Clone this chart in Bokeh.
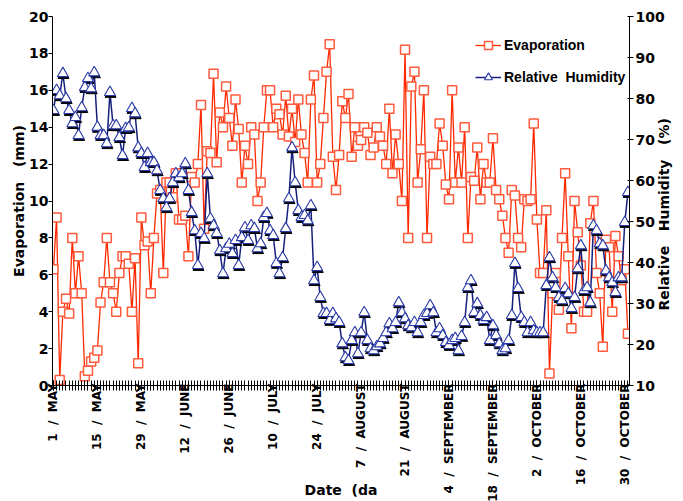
import math
import numpy as np
from bokeh.plotting import figure
from bokeh.models import Range1d, LinearAxis, FixedTicker, Legend, LegendItem
from bokeh.embed import file_html
from bokeh.resources import INLINE

# ---- data (daily, starting 1 May) ----
evaporation_mm = [
    6.3, 9.1, 0.3, 4.0, 4.7, 3.9, 8.0, 5.0, 7.0, 5.0,
    0.5, 0.8, 1.3, 1.5, 1.9, 4.5, 5.6, 8.0, 5.6, 5.0,
    4.0, 6.1, 7.0, 7.0, 6.6, 4.0, 6.9, 1.2, 9.1, 7.6,
    7.8, 5.0, 8.0, 10.4, 10.6, 6.1, 11.0, 11.0, 10.2, 11.5,
    9.0, 9.0, 9.2, 7.0, 11.3, 11.0, 12.0, 15.2, 8.5, 12.7,
    12.6, 16.9, 12.1, 14.8, 14.0, 16.2, 14.5, 13.0, 15.5, 13.9,
    11.0, 13.0, 12.0, 14.0, 13.6, 10.0, 11.0, 14.0, 16.0, 16.0,
    14.0, 15.0, 14.7, 13.6, 15.7, 13.5, 15.0, 13.2, 15.5, 13.6,
    12.6, 11.0, 15.5, 16.8, 11.0, 12.0, 14.5, 17.0, 18.5, 12.4,
    10.6, 12.5, 15.4, 14.5, 15.8, 12.4, 14.0, 13.0, 13.3, 14.0,
    13.7, 12.5, 12.9, 14.0, 13.5, 13.0, 12.0, 15.0, 11.5, 13.6,
    12.0, 10.0, 18.2, 8.0, 16.2, 17.0, 11.0, 12.8, 16.0, 8.0,
    12.4, 12.0, 12.0, 14.2, 13.0, 10.9, 10.1, 16.0, 11.0, 12.9,
    11.0, 14.0, 8.0, 11.3, 11.1, 12.9, 10.1, 12.0, 11.0, 11.0,
    13.4, 10.6, 10.1, 9.2, 8.0, 7.2, 10.6, 10.3, 8.0, 7.5,
    10.1, 10.0, 10.1, 14.2, 9.0, 6.1, 6.1, 9.5, 0.65, 5.0,
    6.1, 4.1, 8.0, 11.5, 7.0, 3.1, 10.0, 8.3, 6.5, 4.0,
    4.0, 8.8, 10.0, 6.1, 5.0, 2.1, 7.9, 7.5, 4.0, 8.1,
    7.0, 5.7, 6.3, 2.8,
]

relative_humidity_pct = [
    77.1, 82.0, 80.7, 86.1, 80.0, 77.1, 73.9, 75.4, 71.0, 77.8,
    82.7, 84.9, 82.4, 86.3, 73.0, 71.0, 71.0, 69.0, 81.5, 73.4,
    73.4, 70.5, 66.1, 72.7, 72.9, 77.6, 76.3, 68.0, 66.6, 63.2,
    66.6, 64.4, 64.4, 62.4, 57.6, 55.6, 53.4, 55.6, 59.5, 61.7,
    60.7, 61.7, 64.1, 57.6, 52.2, 47.8, 39.3, 47.1, 45.9, 61.7,
    50.7, 49.0, 47.1, 42.9, 37.3, 43.4, 44.5, 42.2, 45.4, 39.3, 46.1,
    48.5, 45.4, 49.0, 48.3, 43.4, 44.6, 51.0, 52.0, 47.8, 46.6,
    39.8, 37.3, 41.2, 48.3, 55.6, 68.0, 59.5, 52.7, 51.0, 51.5,
    50.2, 53.9, 35.6, 38.8, 31.5, 27.6, 27.6, 25.9, 27.6, 26.3, 25.4, 20.2,
    16.8, 16.1, 21.0, 22.9, 17.8, 22.9, 27.8, 21.0, 19.0, 18.5,
    19.5, 20.2, 21.5, 22.9, 25.1, 23.9, 25.4, 30.2, 27.8, 26.3,
    24.6, 24.1, 25.4, 22.9, 25.4, 27.1, 27.6, 29.5, 27.8, 22.9,
    23.9, 22.2, 20.5, 19.8, 21.0, 21.5, 18.5, 22.0, 25.4, 33.9,
    35.6, 27.8, 30.0, 27.1, 25.9, 26.6, 21.0, 24.6, 22.2, 20.2,
    18.5, 19.0, 21.0, 27.1, 39.8, 33.7, 26.6, 25.4, 22.9, 25.4, 23.4,
    22.9, 22.9, 22.9, 34.4, 41.2, 36.3, 33.9, 31.5, 30.7, 33.7,
    32.4, 28.8, 31.5, 38.5, 44.1, 33.2, 33.9, 30.2, 49.0, 47.8,
    44.6, 44.1, 38.0, 36.3, 35.1, 32.7, 36.3, 36.3, 49.8, 57.1,
]

S = "\u00a0\u00a0"
tick_days = [0, 14, 28, 42, 56, 70, 84, 98, 112, 126, 140, 154, 168, 182]
tick_labels = [f"1{S}/{S}MAY", f"15{S}/{S}MAY", f"29{S}/{S}MAY", f"12{S}/{S}JUNE",
               f"26{S}/{S}JUNE", f"10{S}/{S}JULY", f"24{S}/{S}JULY", f"7{S}/{S}AUGUST",
               f"21{S}/{S}AUGUST", f"4{S}/{S}SEPTEMBER", f"18{S}/{S}SEPTEMBER",
               f"2{S}/{S}OCTOBER", f"16{S}/{S}OCTOBER", f"30{S}/{S}OCTOBER"]
n_days = 184
rh_title = "Relative\u00a0\u00a0\u00a0Humidity\u00a0\u00a0\u00a0(%)"

FONT = "DejaVu Sans"
LEG_FONT = "Liberation Sans"

days = np.arange(len(evaporation_mm))
days_rh = np.arange(len(relative_humidity_pct))
evap = np.array(evaporation_mm)
rh = np.array(relative_humidity_pct)

p = figure(frame_width=577, frame_height=369, output_backend="svg", toolbar_location=None,
           x_range=Range1d(-0.3, 183.5), y_range=Range1d(0, 20),
           min_border_left=52, min_border_right=54, min_border_top=16,
           min_border_bottom=116, background_fill_color="white")
p.extra_y_ranges = {"rh": Range1d(10, 100)}
p.grid.visible = False
p.outline_line_color = None

# Evaporation
e_line = p.line(days, evap, line_color="#ff2a00", line_width=1.3)
e_pts = p.scatter(days, evap, marker="square", size=9, fill_color="white",
                  line_color="#ff5a3c", line_width=1.5)

# Relative humidity
h_line = p.line(days_rh, rh, line_color="#16207c", line_width=1.5, y_range_name="rh")
p.scatter(days_rh + 0.2, rh - 0.45, marker="triangle", size=11, fill_color="black",
          line_color="black", y_range_name="rh")
h_pts = p.scatter(days_rh, rh, marker="triangle", size=11, fill_color="white",
                  line_color="#2a3aa8", line_width=1.1, y_range_name="rh")

# X axis
xa = p.xaxis[0]
xa.ticker = FixedTicker(ticks=tick_days, minor_ticks=list(range(0, n_days)))
xa.major_label_overrides = {d: t for d, t in zip(tick_days, tick_labels)}
xa.major_label_orientation = math.pi / 2
xa.major_label_text_font = FONT
xa.major_label_text_font_style = "bold"
xa.major_label_text_font_size = "12px"
xa.major_label_text_color = "black"
xa.major_tick_in = 5
xa.major_tick_out = 5
xa.minor_tick_in = 5
xa.minor_tick_out = 5
xa.major_label_standoff = -7
xa.axis_label = "Date\u00a0\u00a0(da"
xa.axis_label_text_font = FONT
xa.axis_label_text_font_style = "bold"
xa.axis_label_text_font_size = "14px"
xa.axis_label_text_color = "black"
xa.axis_label_standoff = -23
xa.axis_line_color = "black"
xa.major_tick_line_color = "black"
xa.minor_tick_line_color = "black"

# Left axis
ya = p.yaxis[0]
ya.ticker = FixedTicker(ticks=list(range(0, 21, 2)))
ya.axis_label = "Evaporation\u00a0\u00a0\u00a0(mm)"
ya.axis_label_text_font = FONT
ya.axis_label_text_font_style = "bold"
ya.axis_label_text_font_size = "14px"
ya.axis_label_text_color = "black"
ya.axis_label_standoff = -1
ya.major_label_text_font = FONT
ya.major_label_text_font_style = "bold"
ya.major_label_text_font_size = "14px"
ya.major_label_text_color = "black"
ya.major_label_standoff = 0
ya.major_tick_in = 0
ya.major_tick_out = 4
ya.minor_tick_line_color = None
ya.axis_line_color = "black"
ya.major_tick_line_color = "black"

# Right axis
ra = LinearAxis(y_range_name="rh", ticker=FixedTicker(ticks=list(range(10, 101, 10))))
ra.major_label_text_font = FONT
ra.major_label_text_font_style = "bold"
ra.major_label_text_font_size = "14px"
ra.major_label_text_color = "black"
ra.major_label_standoff = 2
ra.major_tick_in = 2
ra.major_tick_out = 4
ra.minor_tick_line_color = None
ra.axis_line_color = "black"
ra.major_tick_line_color = "black"
p.add_layout(ra, "right")

# Right axis title (reads bottom-to-top), carried by a tick-less companion axis
title_pos = 28.3
ra2 = LinearAxis(y_range_name="rh", ticker=FixedTicker(ticks=[title_pos]))
ra2.major_label_overrides = {title_pos: rh_title}
ra2.major_label_orientation = math.pi / 2
ra2.major_label_text_font = FONT
ra2.major_label_text_font_style = "bold"
ra2.major_label_text_font_size = "14px"
ra2.major_label_text_color = "black"
ra2.major_label_standoff = -3
ra2.major_tick_in = 0
ra2.major_tick_out = 0
ra2.major_tick_line_color = None
ra2.minor_tick_line_color = None
ra2.axis_line_color = None
p.add_layout(ra2, "right")

legend = Legend(items=[LegendItem(label="Evaporation", renderers=[e_line, e_pts]),
                       LegendItem(label="Relative\u00a0\u00a0Humidity", renderers=[h_line, h_pts])],
                location=(423, 298), border_line_color=None, background_fill_alpha=0,
                label_text_font=LEG_FONT, label_text_font_style="bold",
                label_text_font_size="14px", label_text_color="black",
                glyph_width=26, glyph_height=20,
                label_height=20, spacing=12, padding=0, margin=0, label_standoff=3)
p.add_layout(legend)

open("out.html", "w").write(file_html(p, INLINE))
